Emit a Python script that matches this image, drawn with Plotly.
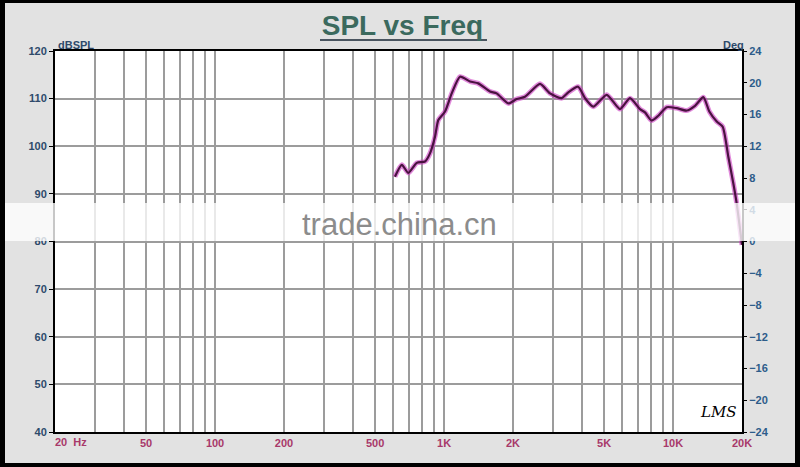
import plotly.graph_objects as go

# ---- data ----
freq_hz = [610, 654, 698, 760, 826, 868, 913, 944, 1010, 1080, 1174, 1298, 1411, 1587, 1697,
           1907, 2075, 2256, 2624, 2902, 3264, 3487, 3850, 4125, 4484, 5132, 5866, 6486, 7171,
           7541, 8067, 8621, 9381, 10370, 11470, 12470, 13560, 14400, 15510, 16470, 17430,
           18330, 18960, 20000]
spl_db = [93.6, 96.1, 94.4, 96.5, 96.8, 98.5, 102.0, 105.5, 107.3, 111.1, 114.6, 113.6, 113.2,
          111.5, 111.1, 109.0, 109.9, 110.4, 113.1, 111.1, 110.1, 111.3, 112.5, 110.1, 108.3,
          110.8, 107.8, 110.1, 107.8, 107.1, 105.4, 106.4, 108.2, 108.0, 107.5, 108.5, 110.3,
          107.3, 105.2, 104.1, 97.8, 92.2, 88.0, 79.3]

grid_freqs = [20, 30, 40, 50, 60, 70, 80, 90, 100, 200, 300, 400, 500, 600, 700, 800, 900,
              1000, 2000, 3000, 4000, 5000, 6000, 7000, 8000, 9000, 10000, 20000]
freq_labels = {50: "50", 100: "100", 200: "200", 500: "500", 1000: "1K", 2000: "2K",
               5000: "5K", 10000: "10K", 20000: "20K"}
spl_ticks = [40, 50, 60, 70, 80, 90, 100, 110, 120]
deg_ticks = [-24, -20, -16, -12, -8, -4, 0, 4, 8, 12, 16, 20, 24]

W, H = 800, 467
L, R, T, B = 55, 742, 51, 432


def px(x):
    return (x - L) / (R - L)


def py(y):
    return (B - y) / (B - T)


FONT = "Arial, Liberation Sans, sans-serif"

fig = go.Figure()
fig.add_trace(go.Scatter(x=freq_hz, y=spl_db, mode="lines",
                         line=dict(color="rgba(205,60,195,0.6)", width=5, shape="spline", smoothing=0.6),
                         hoverinfo="skip", showlegend=False))
fig.add_trace(go.Scatter(x=freq_hz, y=spl_db, mode="lines",
                         line=dict(color="#4a1240", width=2.2, shape="spline", smoothing=0.6),
                         showlegend=False))
# dummy trace for right axis
fig.add_trace(go.Scatter(x=[20], y=[0], yaxis="y2", mode="markers",
                         marker=dict(opacity=0), showlegend=False, hoverinfo="skip"))

ticktext = [freq_labels.get(f, "") for f in grid_freqs]

fig.update_layout(
    width=W, height=H,
    margin=dict(l=L, r=W - R, t=T, b=H - B, pad=0),
    paper_bgcolor="#e2e2e2",
    plot_bgcolor="white",
    title=dict(text="<b>SPL vs Freq</b>", x=0.503, xanchor="center", y=1 - 25 / H, yanchor="middle",
               font=dict(family=FONT, size=28, color="#3b6a5e")),
    xaxis=dict(type="log", range=[1.30103, 4.30103], tickvals=grid_freqs, ticktext=ticktext,
               showgrid=True, gridcolor="#9c9c9c", gridwidth=1.6,
               showline=True, linecolor="black", linewidth=2, mirror=True,
               ticks="", tickfont=dict(family=FONT, size=11, color="#a8396a", weight="bold"),
               zeroline=False),
    yaxis=dict(range=[40, 120], tickvals=spl_ticks, showgrid=True, gridcolor="#9c9c9c", gridwidth=1.6,
               showline=True, linecolor="black", linewidth=2, mirror=True,
               ticks="outside", ticklen=4, tickcolor="black",
               tickfont=dict(family=FONT, size=11, color="#2e4a6b", weight="bold"), zeroline=False),
    yaxis2=dict(range=[-24, 24], tickvals=deg_ticks, overlaying="y", side="right",
                showgrid=False, ticks="outside", ticklen=4, tickcolor="black",
                tickfont=dict(family=FONT, size=11, color="#2d5c8a", weight="bold"), zeroline=False,
                showline=False),
)

# axis unit labels
fig.add_annotation(text="<b>dBSPL</b>", xref="paper", yref="paper", x=px(56), y=py(45),
                   xanchor="left", yanchor="middle", showarrow=False,
                   font=dict(family=FONT, size=11, color="#2e4a6b"))
fig.add_annotation(text="<b>Deg</b>", xref="paper", yref="paper", x=px(746), y=py(45),
                   xanchor="right", yanchor="middle", showarrow=False,
                   font=dict(family=FONT, size=11, color="#2e4a6b"))
fig.add_annotation(text="<b>20  Hz</b>", xref="paper", yref="paper", x=px(53), y=py(442),
                   xanchor="left", yanchor="middle", showarrow=False,
                   font=dict(family=FONT, size=11, color="#a8396a"))
fig.add_annotation(text="<i>LMS</i>", xref="paper", yref="paper", x=px(718), y=py(412),
                   xanchor="center", yanchor="middle", showarrow=False,
                   font=dict(family="DejaVu Serif, serif", size=15, color="black"))

# title underline
fig.add_shape(type="line", xref="paper", yref="paper", x0=px(320), x1=px(487), y0=py(40), y1=py(40),
              line=dict(color="#4a5560", width=2))

# watermark band
fig.add_shape(type="rect", xref="paper", yref="paper", x0=px(0), x1=px(800), y0=py(241), y1=py(203),
              fillcolor="rgba(255,255,255,0.78)", line=dict(width=0), layer="above")
fig.add_annotation(text="trade.china.cn", xref="paper", yref="paper", x=px(400), y=py(224),
                   xanchor="center", yanchor="middle", showarrow=False,
                   font=dict(family=FONT, size=31, color="#8c8c8c"))

# outer black frame
for (x0, x1, y0, y1) in [(0, 5, 0, H), (0, W, 0, 3), (0, W, 463, H), (795, W, 0, H)]:
    fig.add_shape(type="rect", xref="paper", yref="paper", x0=px(x0), x1=px(x1), y0=py(y1), y1=py(y0),
                  fillcolor="black", line=dict(width=0), layer="above")

post = ("document.body.style.margin='0';document.body.style.padding='0';"
        "var d=document.querySelector('.plotly-graph-div');"
        "if(d){d.style.outline='4px solid black';d.style.outlineOffset='-4px';}")
fig.write_html("out.html", post_script=post, config={"displayModeBar": False})
